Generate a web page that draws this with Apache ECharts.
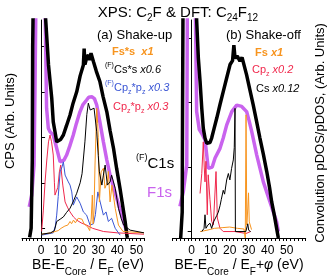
<!DOCTYPE html>
<html><head><meta charset="utf-8">
<script src="https://cdn.jsdelivr.net/npm/echarts@6/dist/echarts.min.js"></script>
<style>html,body{margin:0;padding:0;background:#fff}#c{width:328px;height:278px}</style>
</head><body><div id="c"></div>
<script>
// ---- data (x: eV, y: arb. units) ----
const xTickLabels = [0, 10, 20, 30, 40, 50];
const leftYTicks = [0, 1, 2, 3, 4];
const rightYTicks = [0, 1, 2, 3];

// panel (a) shake-up
const aXpsC1s = [[-6.0,-0.2],[-5.2,0.0],[-4.6,1.5],[-4.4,4.0],[-3.5,7],[-1.5,9.5],[0.5,10],[1.8,7],[2.4,4.6],[3.9,3.59],[5.6,2.86],[6.4,2.34],[7.4,2.1],[8.2,1.9],[9.1,1.87],[10.2,1.95],[11.7,2.05],[13.3,2.25],[15.2,2.49],[16.8,2.75],[18.7,3.0],[20.5,3.35],[22.2,3.59],[22.6,3.95],[23.0,3.6],[23.9,3.74],[24.8,3.81],[25.5,3.7],[26.2,3.85],[27.5,3.66],[29.0,3.45],[30.9,3.22],[32.5,2.9],[34.5,2.56],[36.2,2.15],[38.0,1.76],[39.7,1.3],[41.4,0.88],[42.8,0.5],[44.1,0.15],[45.0,-0.15],[45.3,-0.21]];
const aXpsF1s = [[-6.2,0.47],[-4.9,0.73],[-3.7,1.39],[-3.2,3.0],[-2.7,5],[-1.0,9],[0.5,10],[1.5,8],[2.2,4.6],[2.9,2.64],[3.8,2.2],[4.7,2.12],[6.4,2.05],[8.2,1.76],[10.0,1.46],[10.9,1.43],[12.0,1.5],[13.4,1.61],[15.0,1.8],[16.9,2.05],[18.5,2.3],[20.4,2.56],[22.0,2.72],[23.9,2.82],[25.0,2.88],[26.6,2.89],[28.0,2.85],[29.2,2.71],[30.8,2.35],[32.7,1.9],[34.5,1.5],[36.2,1.17],[39.7,0.66],[42.3,0.29],[44.0,0.05],[45.0,-0.07]];
const aCpzPz = [[0.3,-0.07],[1.2,0.4],[2.1,1.02],[3.0,1.5],[3.9,1.9],[4.7,2.05],[5.5,1.9],[6.4,1.61],[7.0,1.0],[7.3,0.73],[8.2,0.7],[8.8,0.9],[9.6,1.24],[10.3,1.39],[11.4,0.95],[12.6,0.58],[14.0,0.45],[15.2,0.36],[17.0,0.25],[18.7,0.18],[21.0,0.12],[23.9,0.07],[27.0,0.0],[32.7,-0.07],[40,-0.1],[54,-0.13]];
const aFCpzPz = [[0.3,-0.15],[6.4,-0.1],[7.5,0.05],[8.2,0.29],[9.0,0.7],[10.0,1.24],[11.0,1.35],[11.7,1.46],[12.6,1.17],[13.5,1.2],[14.3,1.02],[15.2,0.95],[16.1,0.8],[16.9,0.51],[17.8,0.6],[18.7,0.69],[19.6,0.65],[20.5,0.55],[22.2,0.36],[23.9,0.29],[25.7,0.07],[27.5,0.1],[28.5,0.3],[29.2,0.58],[29.8,0.8],[31.0,0.58],[32.7,0.29],[34.1,0.36],[35.3,0.15],[37.0,0.22],[38.9,0.0],[40.6,-0.1],[41.5,-0.15]];
const aFsS = [[0.3,-0.13],[5,-0.1],[9,-0.05],[10.5,0.0],[12.5,0.05],[14.0,0.07],[15.2,0.15],[16,0.1],[17.0,0.18],[18.0,0.12],[19.5,0.22],[20.5,0.25],[21.5,0.2],[22.5,0.1],[23.5,0.07],[24.5,0.03],[25.5,-0.05],[26.3,0.2],[26.9,0.73],[27.3,0.1],[27.8,0.4],[28.3,1.39],[29.2,2.64],[29.7,2.3],[30.0,2.0],[30.6,0.58],[31.5,1.24],[32.7,1.32],[33.5,0.88],[34.8,1.02],[35.3,1.25],[36.2,0.58],[37.2,0.95],[38.9,0.44],[40.6,0.07],[43,-0.07],[54,-0.1]];
const aFCsS = [[0.3,-0.13],[5,-0.1],[7,-0.05],[8.2,0.15],[10,0.2],[11.7,0.25],[13.4,0.35],[15.2,0.44],[17,0.6],[18.7,0.77],[20.5,1.0],[21.5,1.2],[23.0,1.9],[24.0,2.5],[24.8,2.75],[25.8,2.6],[26.6,2.56],[27.8,2.64],[29.2,2.12],[30.0,1.6],[30.6,1.24],[31.9,0.95],[32.7,1.17],[33.6,1.39],[34.8,0.95],[36.2,1.02],[37.0,1.17],[38.9,0.88],[40.6,0.44],[42.0,0.22],[43.3,0.07],[46.7,-0.04],[54,-0.1]];

// panel (b) shake-off
const bXpsC1s = [[-5.8,-0.1],[-5.0,0.3],[-4.8,2.0],[-4.5,4.0],[-3,6],[0,7],[2,5],[2.6,3.28],[3.5,2.69],[4.4,2.33],[5.3,1.91],[6.1,1.6],[7.0,1.45],[7.9,1.37],[8.7,1.34],[9.6,1.38],[10.5,1.45],[11.8,1.6],[13.2,1.76],[14.9,1.97],[16.6,2.17],[18.4,2.38],[20.2,2.59],[21.5,2.65],[22.2,2.89],[22.8,2.69],[24,2.72],[25.4,2.64],[26.5,2.7],[28.9,2.43],[30.6,2.2],[32.4,1.96],[34.2,1.7],[35.9,1.45],[37.7,1.2],[39.5,0.93],[41,0.68],[42.1,0.46],[43.5,0.25],[44.7,0.05],[45.6,-0.1]];
const bXpsF1s = [[-6.2,0.39],[-4.4,0.62],[-2.6,1.03],[-2.3,3.5],[-1,6],[0.5,6.5],[1.7,4],[2.6,1.86],[4.0,1.58],[5.3,1.52],[7.0,1.42],[7.9,1.19],[8.7,0.98],[9.6,0.95],[10.8,1.0],[12.3,1.14],[14.9,1.29],[16.6,1.45],[18.4,1.65],[21.1,1.86],[23.7,1.96],[26.3,1.94],[28.9,1.86],[30.2,1.72],[31.6,1.55],[34.2,1.19],[37.7,0.77],[41.2,0.46],[44.7,0.15],[45.6,0.0]];
const bCpz = [[4.4,0.59],[5.3,0.9],[6.1,1.39],[6.6,1.0],[7.0,0.77],[7.5,1.09],[8.2,0.26],[8.7,0.88],[9.6,0.5],[10.5,0.16],[11.4,0.1],[12.8,0.93],[13.5,0.21],[14.9,0.05],[16.6,0.0],[22.8,0.0],[23,-0.03],[28.6,-0.03],[29,0.0],[31,0.0]];
const bFs = [[4.4,0.0],[8,0.02],[12,0.05],[16,0.06],[20,0.07],[24,0.05],[27.5,0.04],[28.2,-0.1],[28.6,1.81],[29.0,0.1],[29.5,0.35],[29.9,0.6],[30.3,0.15],[31.5,0.03]];
const bCs = [[5.3,0.0],[6.5,0.05],[7.0,0.26],[7.5,0.05],[8.5,0.1],[9.6,0.13],[10.5,0.05],[11.5,0.15],[13.2,0.25],[14.0,0.3],[14.9,0.4],[15.6,0.5],[16.6,0.64],[17.3,0.58],[18.4,0.8],[19.3,0.9],[20.1,0.8],[21.0,0.98],[21.9,1.11],[22.4,1.3],[22.8,1.91],[23.0,0.0],[28.5,0.0],[29.0,0.0],[29.5,0.12],[30.0,0.02],[31.0,0.0]];

const minorTicks = [];
for (let v = -10; v <= 60; v += 2) minorTicks.push(v);

const C = {black:'#000000', purple:'#c963ee', red:'#f0284c', blue:'#3a55d4', orange:'#f7941e'};
const FONT = '"Liberation Sans", Arial, sans-serif';

function xAx(grid, min, max) {
  return {type:'value', gridIndex:grid, min:min, max:max,
    axisLine:{show:true, onZero:false, lineStyle:{color:'#000', width:1}},
    axisTick:{show:true, inside:false, length:3, customValues:minorTicks.filter(v=>v>=min&&v<=max), lineStyle:{color:'#000'}},
    axisLabel:{show:true, customValues:xTickLabels, color:'#000', fontSize:12, fontFamily:FONT, margin:7},
    splitLine:{show:false}};
}
function yAx(grid, min, max, pos, ticks) {
  return {type:'value', gridIndex:grid, min:min, max:max, position:pos,
    axisLine:{show:true, lineStyle:{color:'#000', width:1}},
    axisTick:{show:true, inside:true, length:4, customValues:ticks, lineStyle:{color:'#000'}},
    axisLabel:{show:false}, splitLine:{show:false}};
}
function ln(data, color, width, xi, z) {
  return {type:'line', data:data, xAxisIndex:xi, yAxisIndex:xi, showSymbol:false, symbol:'none',
    clip:true, z:z, lineStyle:{color:color, width:width}, animation:false};
}
function txt(x, y, text, rich, opt) {
  return Object.assign({type:'text', x:x, y:y, style:Object.assign({text:text, rich:rich, fill:'#000',
    font:'13px '+FONT, verticalAlign:'middle'}, opt||{})});
}
const sup = {fontSize:7, verticalAlign:'top', fontFamily:FONT};
const sub = {fontSize:7, verticalAlign:'bottom', fontFamily:FONT};

const chart = echarts.init(document.getElementById('c'), null, {renderer:'canvas'});
chart.setOption({
  animation:false,
  backgroundColor:'#fff',
  grid:[{left:22, top:20, width:122, height:218}, {left:172.7, top:20, width:133, height:218}],
  xAxis:[xAx(0,-10,54), xAx(1,-10,60)],
  yAxis:[yAx(0,-0.213,4.578,'left',leftYTicks), yAx(1,-0.1,3.28,'right',rightYTicks)],
  series:[
    ln(aXpsF1s, C.purple, 3.5, 0, 2), ln(aXpsC1s, C.black, 3.5, 0, 3),
    ln(aCpzPz, C.red, 1, 0, 4), ln(aFCpzPz, C.blue, 1, 0, 4), ln(aFsS, C.orange, 1, 0, 5), ln(aFCsS, C.black, 1, 0, 5),
    ln(bXpsF1s, C.purple, 3.5, 1, 2), ln(bXpsC1s, C.black, 3.5, 1, 3),
    ln(bCpz, C.red, 1, 1, 4), ln(bFs, C.orange, 1, 1, 5), ln(bCs, C.black, 1, 1, 5)
  ],
  graphic:[
    txt(178, 13, 'XPS: C{s|2}F & DFT: C{s|24}F{s|12}', {s:{fontSize:10, verticalAlign:'bottom', fontFamily:FONT}},
      {font:'15px '+FONT, align:'center', lineHeight:20}),
    txt(97, 35, '(a) Shake-up', null, {font:'13px '+FONT}),
    txt(226, 35, '(b) Shake-off', null, {font:'13px '+FONT}),
    txt(112, 52, 'Fs*s  {i|x1}', {i:{fontStyle:'italic', fontWeight:'bold', fontSize:11, fontFamily:FONT}}, {font:'bold 11px '+FONT, fill:C.orange}),
    txt(105, 70, '{u|(F)}Cs*s {i|x0.6}', {u:sup, i:{fontStyle:'italic', fontSize:11, fontFamily:FONT}}, {font:'11px '+FONT, lineHeight:16}),
    txt(105, 88, '{u|(F)}Cp{d|z}*p{d|z} {i|x0.3}', {u:sup, d:sub, i:{fontStyle:'italic', fontSize:11, fontFamily:FONT}}, {font:'11px '+FONT, lineHeight:16, fill:C.blue}),
    txt(113, 107, 'Cp{d|z}*p{d|z} {i|x0.3}', {d:sub, i:{fontStyle:'italic', fontSize:11, fontFamily:FONT}}, {font:'11px '+FONT, lineHeight:16, fill:C.red}),
    txt(136, 164, '{u|(F)}C1s', {u:{fontSize:9, verticalAlign:'top', fontFamily:FONT}}, {font:'15px '+FONT, lineHeight:22}),
    txt(147, 193, 'F1s', null, {font:'15px '+FONT, fill:C.purple}),
    txt(255, 53, 'Fs {i|x1}', {i:{fontStyle:'italic', fontWeight:'bold', fontSize:11, fontFamily:FONT}}, {font:'bold 11px '+FONT, fill:C.orange}),
    txt(252, 70, 'Cp{d|z} {i|x0.2}', {d:sub, i:{fontStyle:'italic', fontSize:11, fontFamily:FONT}}, {font:'11px '+FONT, lineHeight:16, fill:C.red}),
    txt(256, 89, 'Cs {i|x0.12}', {i:{fontStyle:'italic', fontSize:11, fontFamily:FONT}}, {font:'11px '+FONT}),
    txt(88, 265, 'BE-E{d|Core} / E{d|F} (eV)', {d:{fontSize:10, verticalAlign:'bottom', fontFamily:FONT}}, {font:'14px '+FONT, align:'center', lineHeight:24}),
    txt(239, 265, 'BE-E{d|Core} / E{d|F}+{i|φ} (eV)', {d:{fontSize:10, verticalAlign:'bottom', fontFamily:FONT}, i:{fontStyle:'italic', fontSize:14, fontFamily:FONT}}, {font:'14px '+FONT, align:'center', lineHeight:24}),
    Object.assign(txt(10, 121, 'CPS (Arb. Units)', null, {font:'13px '+FONT, align:'center'}), {rotation:Math.PI/2}),
    Object.assign(txt(320, 133, 'Convolution pDOS/pDOS, (Arb. Units)', null, {font:'13px '+FONT, align:'center'}), {rotation:Math.PI/2})
  ]
});
</script></body></html>
